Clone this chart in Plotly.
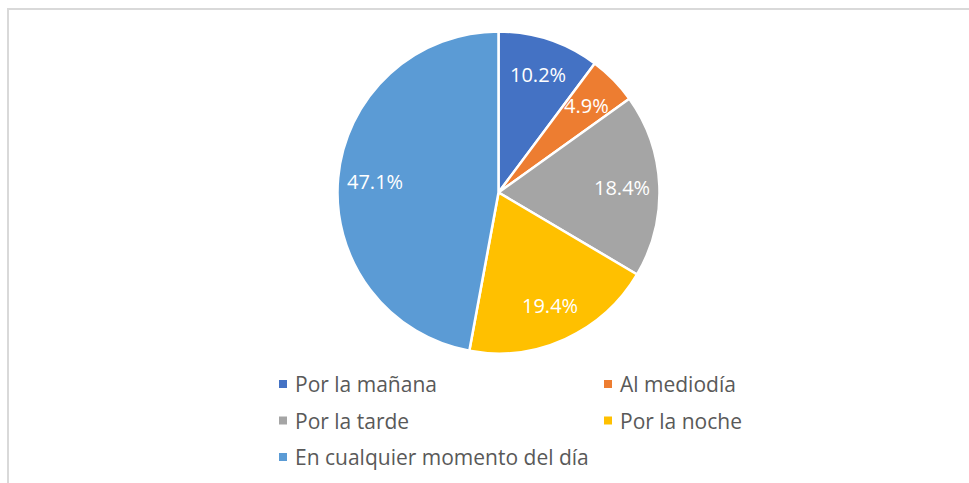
import math
import plotly.graph_objects as go

# ---- data ----
categories = ["Por la mañana", "Al mediodía", "Por la tarde", "Por la noche",
              "En cualquier momento del día"]
values = [10.2, 4.9, 18.4, 19.4, 47.1]
colors = ["#4472C4", "#ED7D31", "#A5A5A5", "#FFC000", "#5B9BD5"]

# ---- geometry (pixels) ----
W, H = 969, 483
cx, cy, R = 498.5, 192.5, 161
LABEL_FRAC = 0.77

def px_x(x):
    return x / W

def px_y(y):
    return 1 - y / H

fig = go.Figure(
    go.Pie(
        labels=categories,
        values=values,
        sort=False,
        direction="clockwise",
        rotation=0,
        marker=dict(colors=colors, line=dict(color="white", width=2.5)),
        textinfo="none",
        hoverinfo="label+percent",
        domain=dict(x=[px_x(cx - R), px_x(cx + R)], y=[px_y(cy + R), px_y(cy - R)]),
        showlegend=False,
    )
)

annotations = []
shapes = []

# data labels along each slice bisector
total = sum(values)
cum = 0.0
for v in values:
    theta = 2 * math.pi * (cum + v / 2) / total
    cum += v
    lx = cx + LABEL_FRAC * R * math.sin(theta)
    ly = cy - LABEL_FRAC * R * math.cos(theta)
    annotations.append(dict(
        x=px_x(lx), y=px_y(ly), xref="paper", yref="paper",
        text=f"{v:.1f}%", showarrow=False, xanchor="center", yanchor="middle",
        font=dict(family="Open Sans", size=20, color="white"),
    ))

# legend (two columns)
for i, (cat, col) in enumerate(zip(categories, colors)):
    c, r = i % 2, i // 2
    mx = 283 + c * 325
    my = 384 + r * 36.5
    shapes.append(dict(
        type="rect", xref="paper", yref="paper",
        x0=px_x(mx - 4), x1=px_x(mx + 4), y0=px_y(my + 4), y1=px_y(my - 4),
        fillcolor=col, line=dict(width=0),
    ))
    annotations.append(dict(
        x=px_x(mx + 10), y=px_y(my), xref="paper", yref="paper",
        text=cat, showarrow=False, xanchor="left", yanchor="middle",
        font=dict(family="Open Sans", size=21, color="#595959"),
    ))

# chart border
shapes.append(dict(
    type="rect", xref="paper", yref="paper",
    x0=px_x(8), x1=1.05, y0=-0.05, y1=px_y(9),
    line=dict(color="#D9D9D9", width=2), fillcolor="rgba(0,0,0,0)",
))

fig.update_layout(
    width=W, height=H,
    margin=dict(l=0, r=0, t=0, b=0),
    paper_bgcolor="white",
    plot_bgcolor="white",
    annotations=annotations,
    shapes=shapes,
)

fig.write_html("out.html", config={"displayModeBar": False},
               post_script="document.body.style.margin='0';")
